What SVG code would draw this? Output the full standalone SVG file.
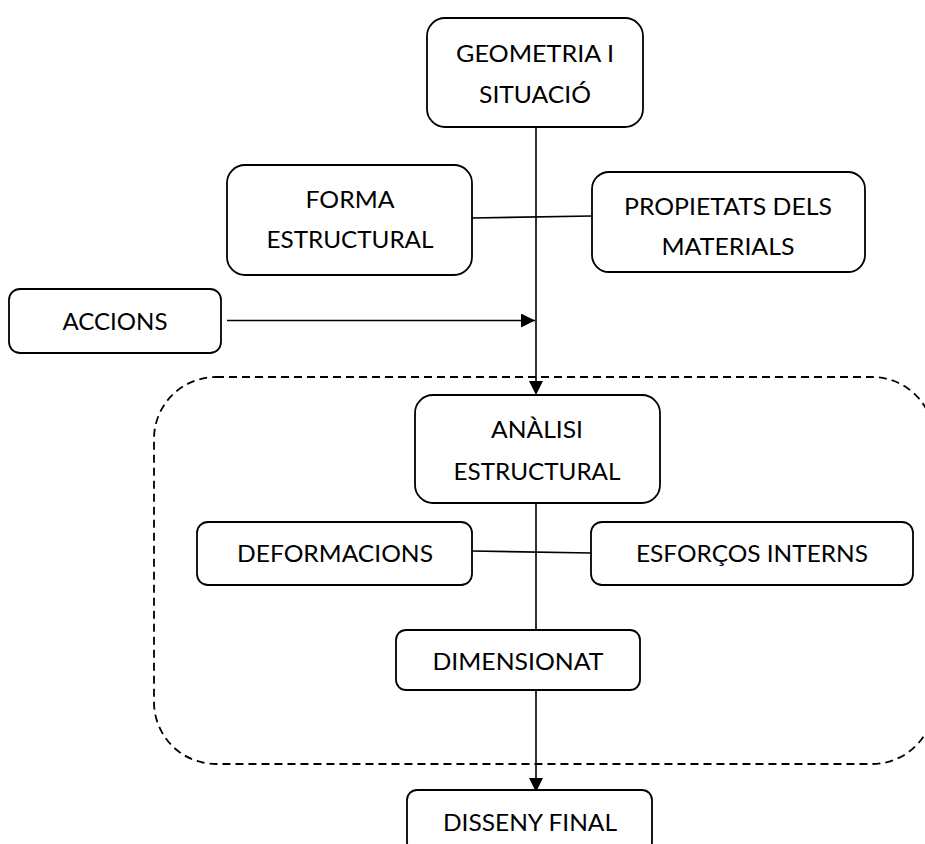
<svg xmlns="http://www.w3.org/2000/svg" width="925" height="844" viewBox="0 0 925 844">
<defs>
<style>
.box{fill:#fff;stroke:#000;stroke-width:1.8}
.t{font-family:Lato,"Open Sans","Liberation Sans",sans-serif;font-size:24px;fill:#000;text-anchor:middle}
.ln{stroke:#000;stroke-width:1.6;fill:none}
.dash{fill:none;stroke:#000;stroke-width:1.8;stroke-dasharray:8 5}
</style>
<marker id="arr" markerUnits="userSpaceOnUse" markerWidth="14" markerHeight="14" refX="14" refY="7" orient="auto">
<path d="M0,0 L14,7 L0,14 z" fill="#000"/>
</marker>
</defs>
<rect width="925" height="844" fill="#fff"/>
<rect id="grupo" class="dash" x="154" y="377" width="780" height="387" rx="62" ry="62"/>
<g id="connectors">
<line class="ln" x1="536" y1="127" x2="536" y2="395" marker-end="url(#arr)"/>
<line class="ln" x1="227" y1="320.5" x2="535" y2="320.5" marker-end="url(#arr)"/>
<line class="ln" x1="472" y1="218" x2="592" y2="216"/>
<line class="ln" x1="472" y1="551" x2="591" y2="553"/>
<line class="ln" x1="536" y1="500" x2="536" y2="634"/>
<line class="ln" x1="536" y1="688" x2="536" y2="792" marker-end="url(#arr)"/>
</g>
<g id="geometria">
<rect class="box" x="427" y="18" width="216" height="109" rx="18"/>
<text class="t" x="535" y="62" textLength="158" lengthAdjust="spacingAndGlyphs">GEOMETRIA I</text>
<text class="t" x="535" y="103" textLength="112" lengthAdjust="spacingAndGlyphs">SITUACIÓ</text>
</g>
<g id="forma">
<rect class="box" x="227" y="165" width="245" height="110" rx="18"/>
<text class="t" x="350" y="208" textLength="89" lengthAdjust="spacingAndGlyphs">FORMA</text>
<text class="t" x="350" y="248" textLength="167" lengthAdjust="spacingAndGlyphs">ESTRUCTURAL</text>
</g>
<g id="propietats">
<rect class="box" x="592" y="172" width="273" height="100" rx="17"/>
<text class="t" x="728" y="215" textLength="208" lengthAdjust="spacingAndGlyphs">PROPIETATS DELS</text>
<text class="t" x="728" y="255" textLength="133" lengthAdjust="spacingAndGlyphs">MATERIALS</text>
</g>
<g id="accions">
<rect class="box" x="9" y="289" width="212" height="64" rx="11"/>
<text class="t" x="115" y="330" textLength="105" lengthAdjust="spacingAndGlyphs">ACCIONS</text>
</g>
<g id="analisi">
<rect class="box" x="415" y="395" width="245" height="108" rx="18"/>
<text class="t" x="537" y="438" textLength="92" lengthAdjust="spacingAndGlyphs">ANÀLISI</text>
<text class="t" x="537" y="480" textLength="167" lengthAdjust="spacingAndGlyphs">ESTRUCTURAL</text>
</g>
<g id="deformacions">
<rect class="box" x="197" y="522" width="275" height="63" rx="11"/>
<text class="t" x="335" y="562" textLength="196" lengthAdjust="spacingAndGlyphs">DEFORMACIONS</text>
</g>
<g id="esforcos">
<rect class="box" x="591" y="522" width="322" height="63" rx="11"/>
<text class="t" x="752" y="562" textLength="232" lengthAdjust="spacingAndGlyphs">ESFORÇOS INTERNS</text>
</g>
<g id="dimensionat">
<rect class="box" x="396" y="630" width="244" height="60" rx="10"/>
<text class="t" x="518" y="670" textLength="171" lengthAdjust="spacingAndGlyphs">DIMENSIONAT</text>
</g>
<g id="disseny">
<rect class="box" x="407" y="790" width="245" height="62" rx="10"/>
<text class="t" x="530" y="831" textLength="174" lengthAdjust="spacingAndGlyphs">DISSENY FINAL</text>
</g>
</svg>
